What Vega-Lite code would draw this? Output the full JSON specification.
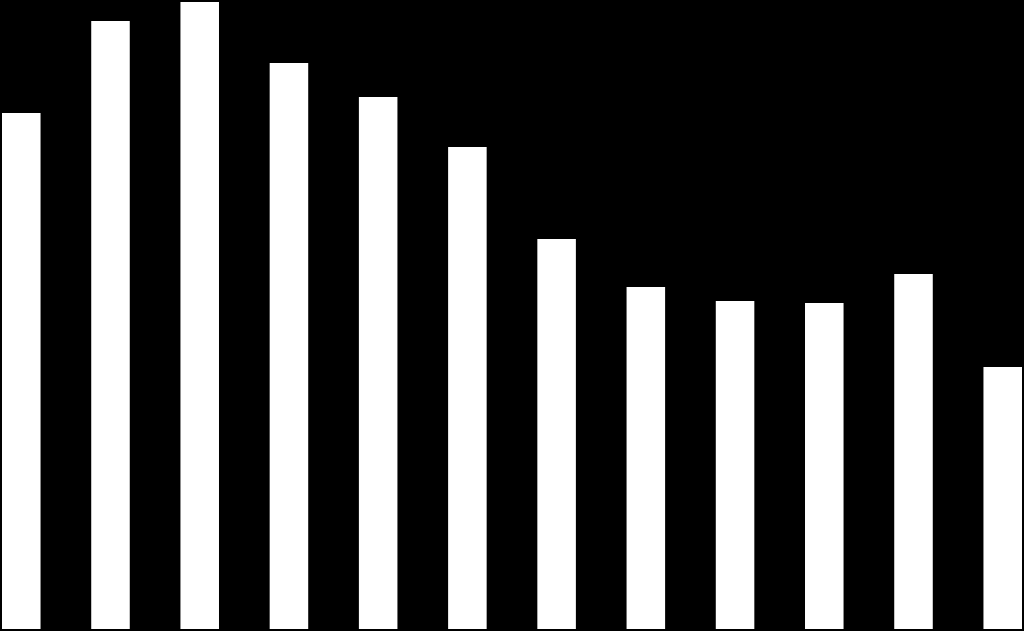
{
  "$schema": "https://vega.github.io/schema/vega-lite/v6.json",
  "width": 1020,
  "height": 628,
  "autosize": {"type": "none"},
  "padding": {"left": 2, "top": 1, "right": 2, "bottom": 2},
  "background": "black",
  "config": {"view": {"stroke": null}},
  "data": {
    "values": [
      {"k": 1, "v": 516},
      {"k": 2, "v": 608},
      {"k": 3, "v": 627},
      {"k": 4, "v": 566},
      {"k": 5, "v": 532},
      {"k": 6, "v": 482},
      {"k": 7, "v": 390},
      {"k": 8, "v": 342},
      {"k": 9, "v": 328},
      {"k": 10, "v": 326},
      {"k": 11, "v": 355},
      {"k": 12, "v": 262}
    ]
  },
  "mark": {"type": "bar", "color": "white"},
  "encoding": {
    "x": {
      "field": "k",
      "type": "ordinal",
      "axis": null,
      "scale": {"paddingInner": 0.568, "paddingOuter": 0}
    },
    "y": {
      "field": "v",
      "type": "quantitative",
      "axis": null,
      "scale": {"domain": [0, 628], "nice": false}
    }
  }
}
